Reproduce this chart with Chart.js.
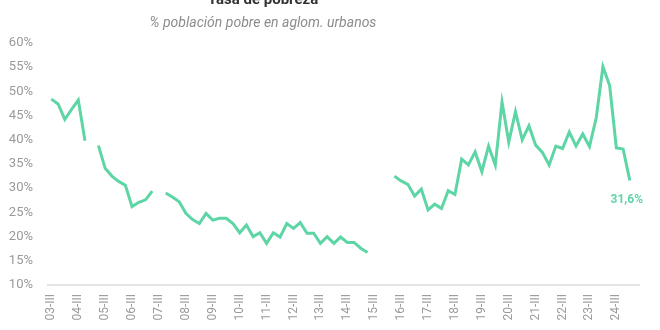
<!DOCTYPE html>
<html lang="es">
<head>
<meta charset="utf-8">
<script src="https://cdn.jsdelivr.net/npm/chart.js@4"></script>
<style>
  html, body { margin: 0; padding: 0; background: #fff; }
  #wrap { position: relative; width: 660px; height: 330px; overflow: hidden; font-family: Roboto, sans-serif; }
  #title { position: absolute; left: 0; width: 526px; top: -10px; text-align: center; font-weight: 700; font-size: 15px; line-height: 18px; color: #333; }
  #subtitle { position: absolute; left: 0; width: 526px; top: 13px; text-align: center; font-style: italic; font-size: 14px; line-height: 18px; color: #8c8c8c; }
  #chart { position: absolute; left: 0; top: 0; }
</style>
</head>
<body>
<div id="wrap">
  <canvas id="chart" width="660" height="330"></canvas>
  <div id="title">Tasa de pobreza</div>
  <div id="subtitle">% población pobre en aglom. urbanos</div>
</div>
<script>
const GREEN = '#5dd5a5';

const years = ['03','04','05','06','07','08','09','10','11','12','13','14','15','16','17','18','19','20','21','22','23','24','25'];
const quarters = ['I','II','III','IV'];

// trimestres de 03-III a 25-II
const quarterLabels = [];
years.forEach(y => quarters.forEach(q => quarterLabels.push(`${y}-${q}`)));
const labels = quarterLabels.slice(2, 90);

const yTicks = [10, 15, 20, 25, 30, 35, 40, 45, 50, 55, 60];

// % personas bajo la línea de pobreza (null = sin dato)
const pobreza = [
  48.4, 47.4, 44.2, 46.3, 48.2, 39.8, null, 38.8,
  34.1, 32.5, 31.4, 30.6, 26.2, 27.1, 27.6, 29.4,
  null, 29.0, 28.2, 27.2, 24.8, 23.5, 22.7, 24.8,
  23.4, 23.8, 23.8, 22.7, 20.8, 22.4, 20.0, 20.8,
  18.6, 20.8, 19.9, 22.7, 21.7, 22.9, 20.7, 20.7,
  18.6, 20.0, 18.6, 19.9, 18.8, 18.8, 17.6, 16.7,
  null, null, null, 32.5, 31.5, 30.8, 28.4, 29.8,
  25.5, 26.7, 25.8, 29.5, 28.7, 36.0, 34.8, 37.5,
  33.4, 38.7, 34.8, 47.8, 39.5, 45.8, 40.0, 42.9,
  38.9, 37.4, 34.8, 38.7, 38.2, 41.6, 38.7, 41.2,
  38.6, 44.5, 55.1, 51.2, 38.3, 38.1, 31.6, null
];

const lastLabel = {
  id: 'lastLabel',
  afterDatasetsDraw(chart) {
    let i = pobreza.length - 1;
    while (pobreza[i] == null) i--;
    const pt = chart.getDatasetMeta(0).data[i];
    const ctx = chart.ctx;
    ctx.save();
    ctx.fillStyle = GREEN;
    ctx.font = 'bold 12px Roboto, sans-serif';
    ctx.textAlign = 'center';
    ctx.textBaseline = 'middle';
    ctx.fillText(pobreza[i].toFixed(1).replace('.', ',') + '%', pt.x - 3, pt.y + 20);
    ctx.restore();
  }
};

new Chart(document.getElementById('chart'), {
  type: 'line',
  data: {
    labels,
    datasets: [{
      data: pobreza,
      borderColor: GREEN,
      borderWidth: 3,
      pointRadius: 0,
      pointHoverRadius: 0,
      tension: 0,
      spanGaps: false,
    }],
  },
  options: {
    responsive: false,
    animation: false,
    events: [],
    layout: { padding: { top: 43, right: 8, left: 0, bottom: 0 } },
    plugins: { legend: { display: false }, tooltip: { enabled: false } },
    scales: {
      x: {
        offset: true,
        grid: { display: false, drawTicks: false },
        border: { display: true, color: '#e4e4e4', width: 2 },
        afterFit: s => { s.height = 45; },
        ticks: {
          autoSkip: false,
          minRotation: 90,
          maxRotation: 90,
          padding: 9,
          color: '#9a9a9a',
          font: { family: 'Roboto, sans-serif', size: 12 },
          callback: (v, i) => labels[i].endsWith('-III') ? labels[i] : '',
        },
      },
      y: {
        min: yTicks[0],
        max: yTicks[yTicks.length - 1],
        grid: { display: false, drawTicks: false },
        border: { display: false },
        afterFit: s => { s.width = 48; },
        afterBuildTicks: s => { s.ticks = yTicks.map(v => ({ value: v })); },
        ticks: {
          padding: 15,
          color: '#9a9a9a',
          font: { family: 'Roboto, sans-serif', size: 13 },
          callback: v => v + '%',
        },
      },
    },
  },
  plugins: [lastLabel],
});
</script>
</body>
</html>
